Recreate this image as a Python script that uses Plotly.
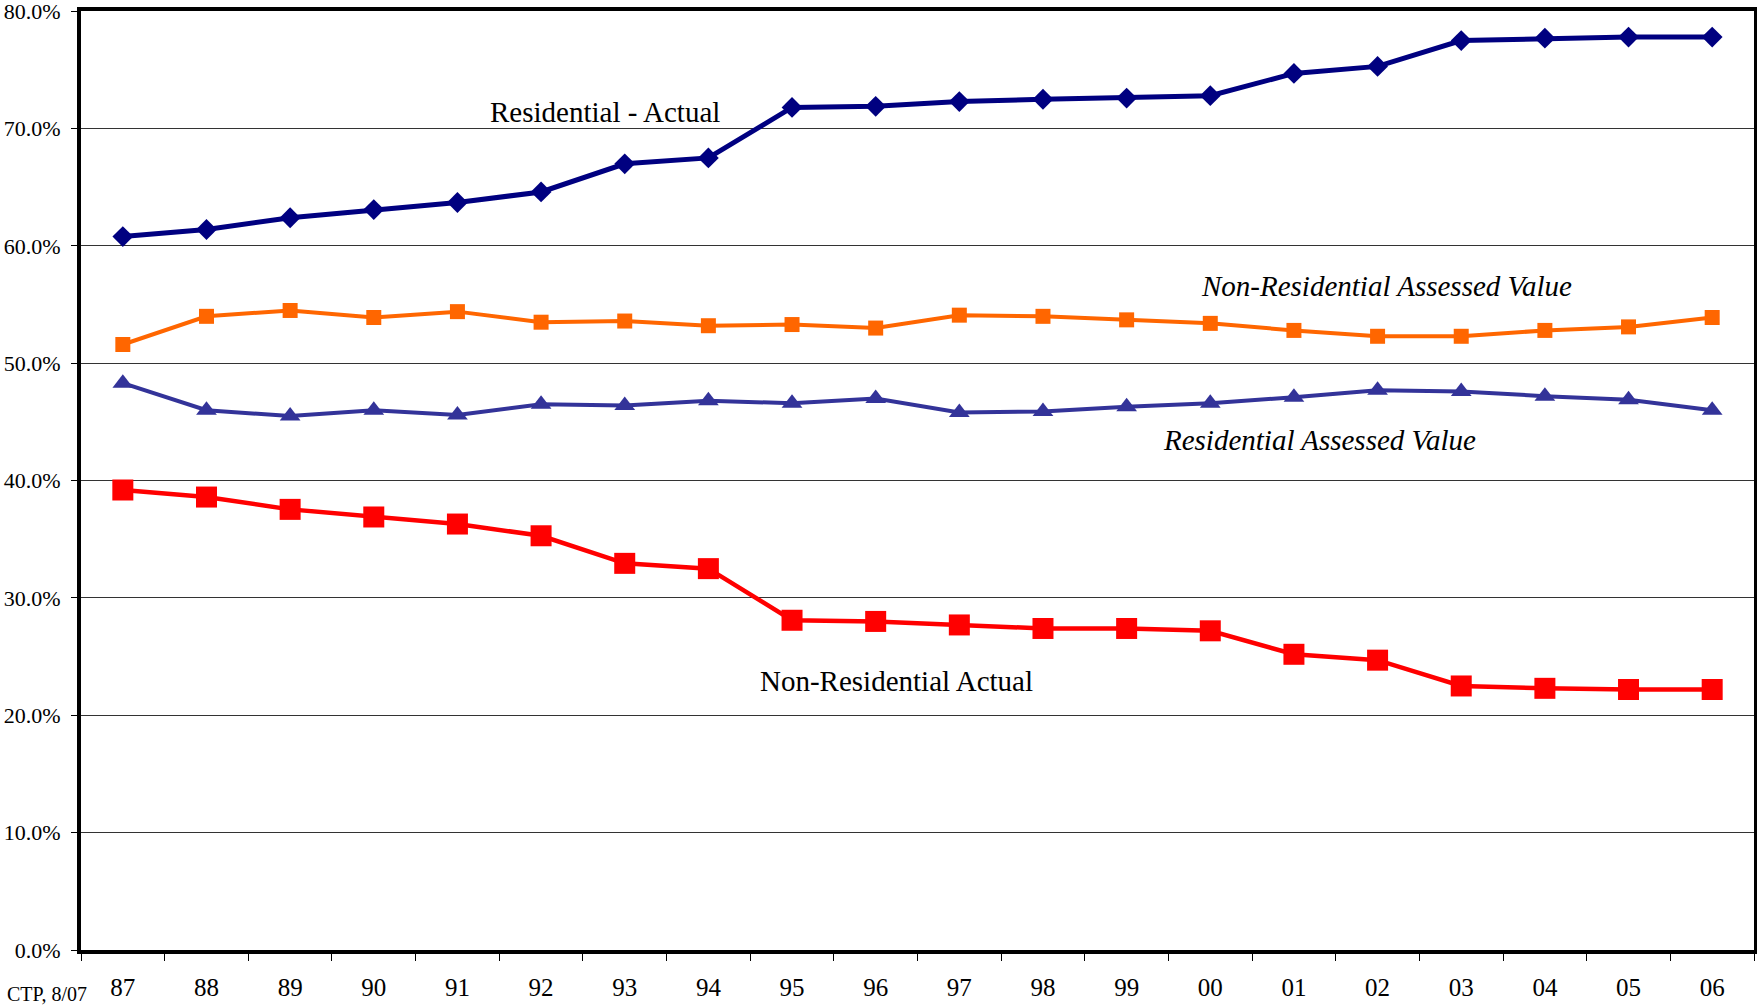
import plotly.graph_objects as go

years = ["87", "88", "89", "90", "91", "92", "93", "94", "95", "96",
         "97", "98", "99", "00", "01", "02", "03", "04", "05", "06"]

residential_actual = [60.8, 61.4, 62.4, 63.1, 63.7, 64.6, 67.0, 67.5, 71.8, 71.9,
                      72.3, 72.5, 72.6, 72.8, 74.7, 75.3, 77.5, 77.7, 77.8, 77.8]
nonres_assessed = [51.6, 54.0, 54.5, 53.9, 54.4, 53.5, 53.6, 53.2, 53.3, 53.0,
                   54.1, 54.0, 53.7, 53.4, 52.8, 52.3, 52.3, 52.8, 53.1, 53.9]
res_assessed = [48.3, 46.0, 45.5, 46.0, 45.6, 46.5, 46.4, 46.8, 46.6, 47.0,
                45.8, 45.9, 46.3, 46.6, 47.1, 47.7, 47.6, 47.2, 46.9, 46.0]
nonres_actual = [39.2, 38.6, 37.55, 36.9, 36.3, 35.3, 32.95, 32.5, 28.1, 28.0,
                 27.7, 27.4, 27.4, 27.2, 25.2, 24.7, 22.5, 22.3, 22.2, 22.2]

y_ticks = [0, 10, 20, 30, 40, 50, 60, 70, 80]
y_tick_text = ["0.0%", "10.0%", "20.0%", "30.0%", "40.0%", "50.0%", "60.0%", "70.0%", "80.0%"]

SERIF = "Liberation Serif, Times New Roman, serif"

fig = go.Figure()
fig.add_trace(go.Scatter(x=years, y=residential_actual, mode="lines+markers",
                         line=dict(color="#000080", width=5),
                         marker=dict(symbol="diamond", size=16, color="#000080"),
                         name="Residential - Actual"))
fig.add_trace(go.Scatter(x=years, y=nonres_assessed, mode="lines+markers",
                         line=dict(color="#FF6600", width=4),
                         marker=dict(symbol="square", size=15, color="#FF6600"),
                         name="Non-Residential Assessed Value"))
fig.add_trace(go.Scatter(x=years, y=res_assessed, mode="lines+markers",
                         line=dict(color="#333399", width=4),
                         marker=dict(symbol="triangle-up", size=18, color="#333399"),
                         name="Residential Assessed Value"))
fig.add_trace(go.Scatter(x=years, y=nonres_actual, mode="lines+markers",
                         line=dict(color="#FF0000", width=4.5),
                         marker=dict(symbol="square", size=21, color="#FF0000"),
                         name="Non-Residential Actual"))

annots = [
    dict(x=5.76, y=71.4, text="Residential - Actual", italic=False),
    dict(x=15.11, y=56.6, text="Non-Residential Assessed Value", italic=True),
    dict(x=14.31, y=43.5, text="Residential Assessed Value", italic=True),
    dict(x=9.25, y=22.9, text="Non-Residential Actual", italic=False),
]
for a in annots:
    fig.add_annotation(x=a["x"], y=a["y"], xref="x", yref="y",
                       text=("<i>%s</i>" % a["text"]) if a["italic"] else a["text"],
                       showarrow=False, xanchor="center", yanchor="middle",
                       font=dict(family=SERIF, size=29, color="black"))

fig.add_annotation(x=-0.0455, y=-0.047, xref="paper", yref="paper",
                   text="CTP, 8/07", showarrow=False, xanchor="left", yanchor="middle",
                   font=dict(family=SERIF, size=20, color="black"))

fig.update_layout(
    width=1757, height=1005,
    margin=dict(l=81, r=3, t=11, b=55, autoexpand=False),
    paper_bgcolor="white", plot_bgcolor="white",
    showlegend=False,
    font=dict(family=SERIF, color="black"),
)
fig.update_xaxes(type="category", range=[-0.5, 19.5], tickson="boundaries",
                 ticks="outside", ticklen=7, tickwidth=1, tickcolor="black",
                 showline=True, linecolor="black", linewidth=4, mirror=True,
                 showgrid=False, zeroline=False, automargin=False,
                 tickfont=dict(family=SERIF, size=25, color="black"),
                 ticklabelstandoff=12)
fig.update_yaxes(range=[0, 80.02], tickvals=y_ticks, ticktext=y_tick_text,
                 ticks="outside", ticklen=6, tickwidth=1, tickcolor="black",
                 showline=True, linecolor="black", linewidth=4, mirror=True,
                 showgrid=True, gridcolor="#333333", gridwidth=1, zeroline=False,
                 automargin=False,
                 tickfont=dict(family=SERIF, size=22, color="black"),
                 ticklabelstandoff=6, ticklabeloverflow="allow")

fig.write_html("out.html")
